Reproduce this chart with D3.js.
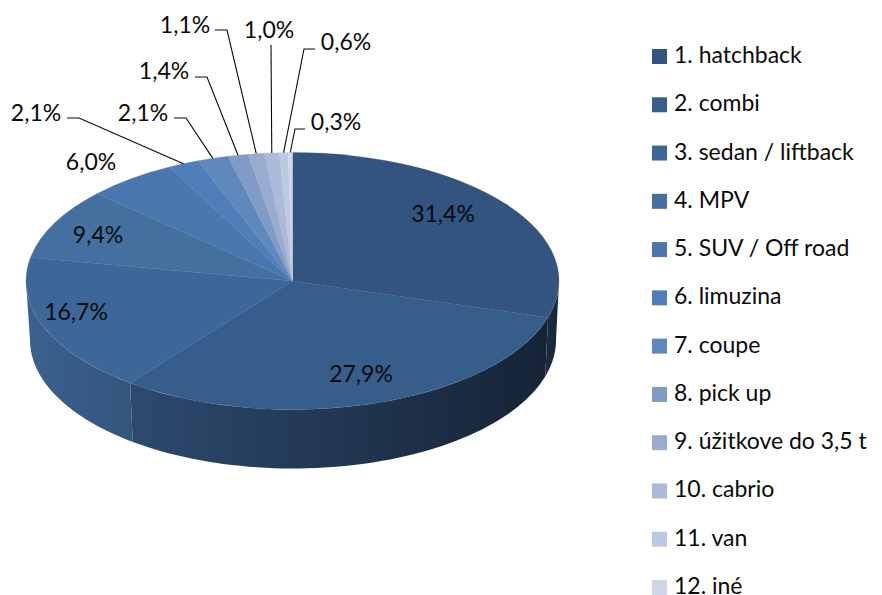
<!DOCTYPE html>
<html>
<head>
<meta charset="utf-8">
<script src="https://cdn.jsdelivr.net/npm/d3@7"></script>
<style>
  html, body { margin: 0; padding: 0; background: #fff; overflow: hidden; }
  svg { display: block; }
  text { font-family: Lato, "Open Sans", sans-serif; fill: #0a0a0a; }
</style>
</head>
<body>
<svg id="chart" width="882" height="595"></svg>
<script>
const categories = ["1. hatchback", "2. combi", "3. sedan / liftback", "4. MPV", "5. SUV / Off road", "6. limuzina",
    "7. coupe", "8. pick up", "9. úžitkove do 3,5 t", "10. cabrio", "11. van", "12. iné"];
const values = [31.4, 27.9, 16.7, 9.4, 6.0, 2.1, 2.1, 1.4, 1.1, 1.0, 0.6, 0.3];
const valueLabels = ["31,4%", "27,9%", "16,7%", "9,4%", "6,0%", "2,1%", "2,1%", "1,4%", "1,1%", "1,0%", "0,6%", "0,3%"];

const colors = ["#32547f", "#375d8a", "#3d6798", "#44709f", "#4a78ae", "#4f7eb8",
    "#5f88bc", "#7f9bc6", "#98acd0", "#abbad8", "#bcc9e1", "#cfd6e6"];
// side wall colours, left and right end of the gradient
const wallColors = {
    0: ["#1b2b42", "#172537"],
    1: ["#2d4a6e", "#162335"],
    2: ["#3b618e", "#32557d"]
};

// label centres, and the elbow of the leader line for the small slices
const labelPos = [[443, 214], [361, 374], [76, 312], [98, 235], [91, 162], [36, 113],
    [143, 113], [164, 71], [185, 25], [269, 30], [346, 42], [336, 122]];
const elbows = {
    5: [[67, 118], [79, 118]],
    6: [[174, 118], [186, 118]],
    7: [[195, 77], [207, 77]],
    8: [[215, 30], [227, 30]],
    9: [[271, 45]],
    10: [[315, 49], [304, 49]],
    11: [[305, 129], [295, 129]]
};

const topFace = { cx: 292.5, cy: 281, rx: 266.5, ry: 128.5 };
const bottomFace = { cx: 293, cy: 340, rx: 263, ry: 128.5 };
const perspective = 0.885;

const svg = d3.select("#chart");
const defs = svg.append("defs");

// the 3d view squeezes the far slices and widens the near ones
function warp(a) {
    return 2 * Math.atan(perspective * Math.tan(a / 2));
}
function warpAngle(a) {
    return a > Math.PI ? warp(a - 2 * Math.PI) + 2 * Math.PI : warp(a);
}
function onEllipse(e, a) {
    return [e.cx + e.rx * Math.sin(a), e.cy - e.ry * Math.cos(a)];
}

const pie = d3.pie().sort(null).value(d => d);
const slices = pie(values).map(d => ({
    index: d.index,
    startAngle: warpAngle(d.startAngle),
    endAngle: warpAngle(d.endAngle),
    midAngle: warpAngle((d.startAngle + d.endAngle) / 2)
}));

// side walls
const line = d3.line();
slices.forEach(d => {
    const a0 = Math.max(d.startAngle, Math.PI / 2);
    const a1 = Math.min(d.endAngle, Math.PI * 1.5);
    if (a0 >= a1) return;
    const steps = d3.range(0, 61).map(i => a0 + (a1 - a0) * i / 60);
    const pts = steps.map(a => onEllipse(topFace, a)).concat(steps.slice().reverse().map(a => onEllipse(bottomFace, a)));
    const xs = d3.extent(pts, p => p[0]);
    const grad = defs.append("linearGradient")
        .attr("id", "wall" + d.index)
        .attr("gradientUnits", "userSpaceOnUse")
        .attr("x1", xs[0]).attr("x2", xs[1]).attr("y1", 0).attr("y2", 0);
    grad.append("stop").attr("offset", 0).attr("stop-color", wallColors[d.index][0]);
    grad.append("stop").attr("offset", 1).attr("stop-color", wallColors[d.index][1]);
    svg.append("path")
        .attr("d", line(pts) + "Z")
        .attr("fill", `url(#wall${d.index})`);
});

// top of the pie
const arc = d3.arc().innerRadius(0).outerRadius(topFace.rx);
svg.append("g")
    .attr("transform", `translate(${topFace.cx},${topFace.cy}) scale(1,${topFace.ry / topFace.rx})`)
    .selectAll("path")
    .data(slices)
    .enter().append("path")
    .attr("d", arc)
    .attr("fill", d => colors[d.index])
    .attr("stroke", d => colors[d.index])
    .attr("stroke-width", 0.4);

// leader lines
Object.keys(elbows).forEach(k => {
    const pts = elbows[k].concat([onEllipse(topFace, slices[k].midAngle)]);
    svg.append("path")
        .attr("d", line(pts))
        .attr("fill", "none")
        .attr("stroke", "#0a0a0a")
        .attr("stroke-width", 1.1);
});

// value labels
svg.append("g").selectAll("text")
    .data(valueLabels)
    .enter().append("text")
    .attr("x", (d, i) => labelPos[i][0])
    .attr("y", (d, i) => labelPos[i][1])
    .attr("dy", "0.35em")
    .attr("text-anchor", "middle")
    .style("font-size", "23px")
    .text(d => d);

// legend
const legendY = d3.scaleLinear().domain([0, 11]).range([49, 580]);
const legend = svg.append("g").selectAll("g")
    .data(categories)
    .enter().append("g")
    .attr("transform", (d, i) => `translate(652,${legendY(i)})`);

legend.append("rect")
    .attr("width", 15)
    .attr("height", 15)
    .attr("fill", (d, i) => colors[i]);

legend.append("text")
    .attr("x", 22)
    .attr("y", 14)
    .style("font-size", "23px")
    .text(d => d);
</script>
</body>
</html>
